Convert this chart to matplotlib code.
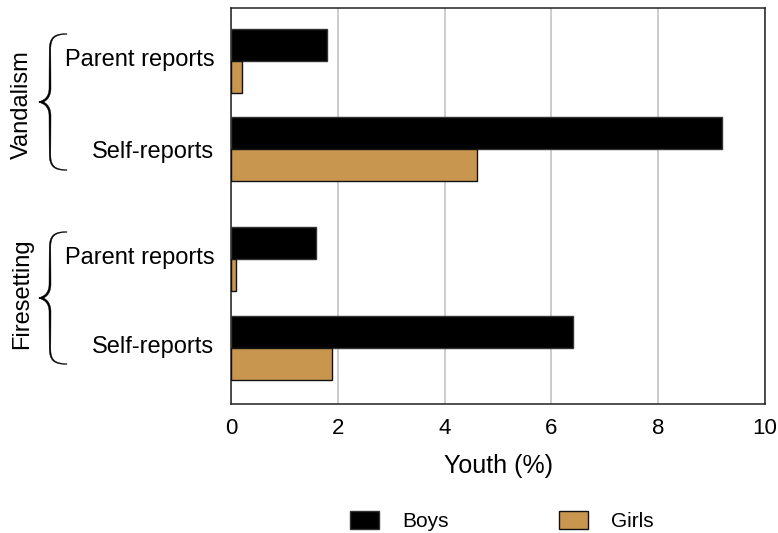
import numpy as np
import matplotlib
matplotlib.use("Agg")
import matplotlib.pyplot as plt
from matplotlib.patches import Polygon, Patch

plt.rcParams['font.family'] = ['Liberation Sans', 'DejaVu Sans']

# ---- data ----
groups = ["Vandalism", "Firesetting"]
categories = ["Parent reports", "Self-reports", "Parent reports", "Self-reports"]
boys = [1.8, 9.2, 1.6, 6.4]
girls = [0.2, 4.6, 0.1, 1.9]
xticks = [0, 2, 4, 6, 8, 10]
xlabel = "Youth (%)"
series_names = ["Boys", "Girls"]

# ---- layout ----
W, H = 778, 533
fig = plt.figure(figsize=(W / 100, H / 100), dpi=100)
ax = fig.add_axes([231 / W, 1 - 404 / H, (765 - 231) / W, (404 - 8) / H])

pos = np.array([0.0, 1.0, 2.25, 3.26])
label_shift = np.array([-0.04, 0.012, -0.04, -0.035])
bh = 0.365
boy_col = "#000000"
girl_col = "#C9964F"

ax.barh(pos - bh / 2, boys, height=bh, color=boy_col, edgecolor="#333333", linewidth=1, zorder=3)
ax.barh(pos + bh / 2, girls, height=bh, color=girl_col, edgecolor="#111111", linewidth=1, zorder=3)

ax.set_xlim(0, 10)
ax.set_ylim(3.9, -0.6)
ax.set_xticks(xticks)
ax.set_xticklabels([str(t) for t in xticks], fontsize=16)
ax.set_yticks(pos + label_shift)
ax.set_yticklabels(categories, fontsize=17)
ax.tick_params(axis='x', length=0, pad=10)
ax.tick_params(axis='y', length=0, pad=12)
ax.xaxis.grid(True, color="#c4c4c4", linewidth=1.2, zorder=0)
ax.set_axisbelow(True)
for s in ax.spines.values():
    s.set_color("#222222")
    s.set_linewidth(1.1)
ax.set_xlabel(xlabel, fontsize=18, labelpad=11)

# ---- group labels and braces ----
def brace(y_top, y_bot, x_end=67, x_mid=50, x_tip=39):
    ym = (y_top + y_bot) / 2.0

    def bez(p0, p1, p2, p3, n=30):
        t = np.linspace(0, 1, n)[:, None]
        p0, p1, p2, p3 = map(np.array, (p0, p1, p2, p3))
        return ((1 - t) ** 3) * p0 + 3 * ((1 - t) ** 2) * t * p1 + 3 * (1 - t) * t ** 2 * p2 + t ** 3 * p3

    A = bez((x_end, y_top), (x_mid + 4, y_top), (x_mid, y_top + 4), (x_mid, y_top + 16))
    B = np.column_stack([np.full(30, x_mid), np.linspace(y_top + 16, ym - 14, 30)])
    C = bez((x_mid, ym - 14), (x_mid, ym - 4), (x_tip + 5, ym), (x_tip, ym))
    top = np.vstack([A, B[1:], C[1:]])
    bot = top[::-1].copy()
    bot[:, 1] = 2 * ym - bot[:, 1]
    pts = np.vstack([top, bot[1:]])
    d = np.gradient(pts, axis=0)
    nrm = np.column_stack([-d[:, 1], d[:, 0]])
    nrm /= np.linalg.norm(nrm, axis=1)[:, None] + 1e-9
    s = np.linspace(0, 1, len(pts))
    w = 0.5 + 1.6 * np.sin(np.pi * s) ** 0.6
    w = np.where(np.abs(s - 0.5) < 0.03, w * (np.abs(s - 0.5) / 0.03) * 0.6 + 0.6, w)
    left = pts + nrm * w[:, None] / 2
    right = pts - nrm * w[:, None] / 2
    poly = np.vstack([left, right[::-1]])
    poly_fig = np.column_stack([poly[:, 0] / W, 1 - poly[:, 1] / H])
    fig.patches.append(Polygon(poly_fig, closed=True, transform=fig.transFigure,
                               facecolor="black", edgecolor="black", linewidth=0.3))

brace(34, 170)
brace(232, 364)
fig.text(22 / W, 1 - 105 / H, groups[0], rotation=90, ha="center", va="center", fontsize=17)
fig.text(22 / W, 1 - 294 / H, groups[1], rotation=90, ha="center", va="center", fontsize=17)

# ---- legend ----
handles = [Patch(facecolor=boy_col, edgecolor="#333333", linewidth=1),
           Patch(facecolor=girl_col, edgecolor="#111111", linewidth=1)]
fig.legend(handles, series_names, loc="center", bbox_to_anchor=(502 / W, 1 - 521 / H),
           ncol=2, frameon=False, fontsize=15, handlelength=1.4, handleheight=1.0,
           handletextpad=1.1, columnspacing=5.3, borderaxespad=0, borderpad=0)

fig.savefig("out.png", dpi=100)
